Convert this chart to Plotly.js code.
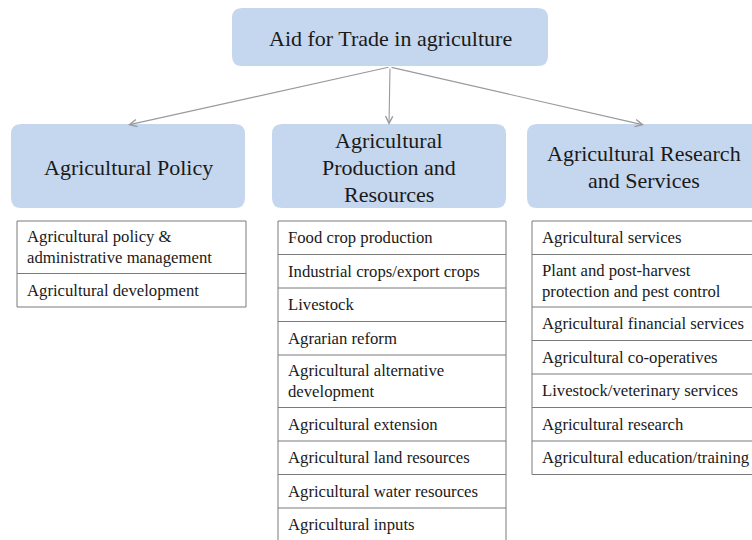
<!DOCTYPE html>
<html>
<head>
<meta charset="utf-8">
<script src="https://cdn.plot.ly/plotly-3.0.1.min.js"></script>
<style>
html,body{margin:0;padding:0;background:#fff;}
#chart svg text{font-family:"Liberation Serif","Times New Roman",serif !important;}
</style>
</head>
<body>
<div id="chart"></div>
<script>
// ---- content ----
const rootLabel = "Aid for Trade in agriculture";
const branchLabels = [
  "Agricultural Policy",
  "Agricultural\nProduction and\nResources",
  "Agricultural Research\nand Services"
];
const policyItems = [
  "Agricultural policy &\nadministrative management",
  "Agricultural development"
];
const productionItems = [
  "Food crop production",
  "Industrial crops/export crops",
  "Livestock",
  "Agrarian reform",
  "Agricultural alternative\ndevelopment",
  "Agricultural extension",
  "Agricultural land resources",
  "Agricultural water resources",
  "Agricultural inputs"
];
const researchItems = [
  "Agricultural services",
  "Plant and post-harvest\nprotection and pest control",
  "Agricultural financial services",
  "Agricultural co-operatives",
  "Livestock/veterinary services",
  "Agricultural research",
  "Agricultural education/training"
];
const branchItems = [policyItems, productionItems, researchItems];

// ---- layout / style (pixels) ----
const W = 752, H = 540;
const FONT = "Liberation Serif";
const BOX_FILL = "rgb(197,215,238)";
const TEXT = "#1a1a1a";
const root = {x0: 232, x1: 548, y0: 8, y1: 66, r: 10, size: 22};
const branchBox = {x0: [11, 272, 527], w: 234, y0: 124, y1: 208, r: 10, size: 22, lh: 27};
const table = {x0: [17, 278, 532], x1: [246, 506, 762], y0: 221, single: 33.5, lineExtra: 19, size: 16.7, lh: 21, pad: 8};
const BORDER = "#7a7a7a";
const ARROW = "#9a9a9a";

function roundRect(x0, y0, x1, y1, r) {
  return `M${x0+r},${y0} L${x1-r},${y0} Q${x1},${y0} ${x1},${y0+r} L${x1},${y1-r} Q${x1},${y1} ${x1-r},${y1} ` +
         `L${x0+r},${y1} Q${x0},${y1} ${x0},${y1-r} L${x0},${y0+r} Q${x0},${y0} ${x0+r},${y0} Z`;
}

const shapes = [];
const annotations = [];

function textLines(str, cx, cy, lh, size, anchor) {
  const lines = str.split("\n");
  const n = lines.length;
  lines.forEach((ln, i) => {
    annotations.push({
      x: cx, y: cy + (i - (n - 1) / 2) * lh, xref: "x", yref: "y",
      text: ln, showarrow: false, xanchor: anchor, yanchor: "middle",
      font: {family: FONT, size: size, color: TEXT}
    });
  });
}

// root box
shapes.push({type: "path", path: roundRect(root.x0, root.y0, root.x1, root.y1, root.r),
  fillcolor: BOX_FILL, line: {width: 0}, layer: "below"});
textLines(rootLabel, (root.x0 + root.x1) / 2, (root.y0 + root.y1) / 2 + 1, 27, root.size, "center");

const rootCx = (root.x0 + root.x1) / 2;

branchLabels.forEach((lab, k) => {
  const x0 = branchBox.x0[k], x1 = x0 + branchBox.w;
  const cx = (x0 + x1) / 2;
  shapes.push({type: "path", path: roundRect(x0, branchBox.y0, x1, branchBox.y1, branchBox.r),
    fillcolor: BOX_FILL, line: {width: 0}, layer: "below"});
  textLines(lab, cx, (branchBox.y0 + branchBox.y1) / 2 + 1, branchBox.lh, branchBox.size, "center");
  // connector arrow from root to branch
  annotations.push({
    x: cx, y: branchBox.y0 + 1, ax: rootCx, ay: root.y1 + 1,
    xref: "x", yref: "y", axref: "x", ayref: "y",
    text: "", showarrow: true, arrowhead: 5, arrowsize: 1.3, arrowwidth: 1.1,
    arrowcolor: ARROW, standoff: 0, startstandoff: 0
  });

  // table of items
  const items = branchItems[k];
  const tx0 = table.x0[k], tx1 = table.x1[k];
  let y = table.y0;
  shapes.push({type: "line", x0: tx0, x1: tx1, y0: y, y1: y, line: {color: BORDER, width: 1}});
  const yStart = y;
  items.forEach(it => {
    const n = it.split("\n").length;
    const h = table.single + (n - 1) * table.lineExtra;
    textLines(it, tx0 + table.pad, y + h / 2, table.lh, table.size, "left");
    y += h;
    shapes.push({type: "line", x0: tx0, x1: tx1, y0: y, y1: y, line: {color: BORDER, width: 1}});
  });
  shapes.push({type: "line", x0: tx0, x1: tx0, y0: yStart, y1: y, line: {color: BORDER, width: 1}});
  shapes.push({type: "line", x0: tx1, x1: tx1, y0: yStart, y1: y, line: {color: BORDER, width: 1}});
});

const layout = {
  width: W, height: H,
  margin: {l: 0, r: 0, t: 0, b: 0, pad: 0},
  paper_bgcolor: "#ffffff", plot_bgcolor: "#ffffff",
  xaxis: {range: [0, W], visible: false, fixedrange: true},
  yaxis: {range: [H, 0], visible: false, fixedrange: true},
  showlegend: false,
  shapes: shapes,
  annotations: annotations
};

Plotly.newPlot("chart", [], layout, {staticPlot: true, displayModeBar: false});
</script>
</body>
</html>
